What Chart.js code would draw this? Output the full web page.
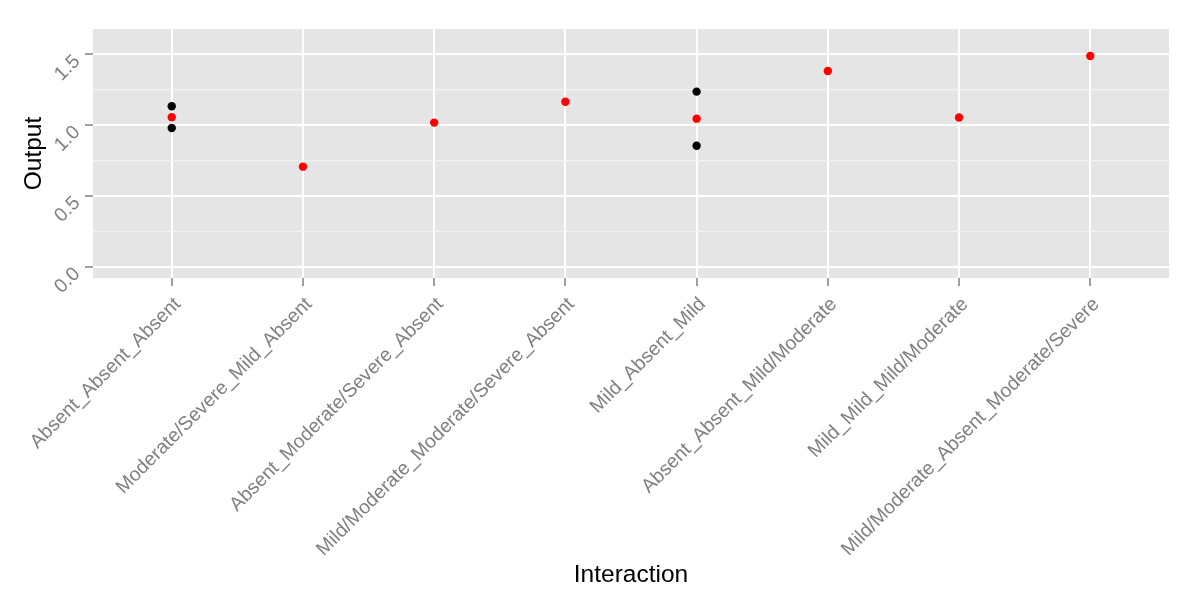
<!DOCTYPE html>
<html>
<head>
<meta charset="utf-8">
<script src="https://cdn.jsdelivr.net/npm/chart.js@4/dist/chart.umd.min.js"></script>
<style>
  html, body { margin: 0; padding: 0; background: #ffffff; }
  #wrap { width: 1200px; height: 605px; position: relative; }
</style>
</head>
<body>
<div id="wrap"><canvas id="c" width="1200" height="605"></canvas></div>
<script>
const categories = [
  "Absent_Absent_Absent",
  "Moderate/Severe_Mild_Absent",
  "Absent_Moderate/Severe_Absent",
  "Mild/Moderate_Moderate/Severe_Absent",
  "Mild_Absent_Mild",
  "Absent_Absent_Mild/Moderate",
  "Mild_Mild_Mild/Moderate",
  "Mild/Moderate_Absent_Moderate/Severe"
];
// red points: one per category
const redValues = [1.057, 0.708, 1.019, 1.166, 1.047, 1.383, 1.055, 1.489];
// black points: category index (1-based) and value
const blackCats = [1, 1, 5, 5];
const blackValues = [1.135, 0.981, 1.238, 0.856];
const yTickValues = [0, 0.25, 0.5, 0.75, 1.0, 1.25, 1.5];
const yMajor = [0, 0.5, 1.0, 1.5];

const redData = redValues.map((v, i) => ({ x: i + 1, y: v }));
const blackData = blackValues.map((v, i) => ({ x: blackCats[i], y: v }));

const panelBg = {
  id: 'panelBg',
  beforeDraw(chart) {
    const { ctx, chartArea: a } = chart;
    ctx.save();
    ctx.fillStyle = '#E5E5E5';
    ctx.fillRect(a.left, a.top, a.right - a.left, a.bottom - a.top);
    ctx.restore();
  }
};

const isMajor = v => yMajor.some(m => Math.abs(m - v) < 1e-9);

new Chart(document.getElementById('c'), {
  type: 'scatter',
  data: {
    datasets: [
      { label: 'black', data: blackData, backgroundColor: '#000000', borderColor: '#000000', pointRadius: 4.2, borderWidth: 0 },
      { label: 'red', data: redData, backgroundColor: '#FF0000', borderColor: '#FF0000', pointRadius: 4.2, borderWidth: 0 }
    ]
  },
  options: {
    responsive: false,
    animation: false,
    layout: { padding: { top: 29, right: 31, left: 0, bottom: 0 } },
    plugins: { legend: { display: false }, tooltip: { enabled: false } },
    scales: {
      x: {
        type: 'linear',
        min: 0.4,
        max: 8.6,
        afterBuildTicks(scale) { scale.ticks = categories.map((c, i) => ({ value: i + 1 })); },
        afterFit(scale) { scale.height = 327; },
        border: { display: false },
        grid: { color: '#FFFFFF', lineWidth: 2, drawTicks: true, tickLength: 8, tickColor: '#7F7F7F', tickWidth: 1.5 },
        ticks: {
          autoSkip: false,
          minRotation: 45,
          maxRotation: 45,
          padding: 7,
          labelOffset: 6,
          color: '#7F7F7F',
          font: { family: 'Liberation Sans, Arial, sans-serif', size: 19.5 },
          callback: (v) => categories[Math.round(v) - 1]
        },
        title: {
          display: true,
          text: 'Interaction',
          color: '#000000',
          font: { family: 'Liberation Sans, Arial, sans-serif', size: 24.5 },
          padding: { top: 0, bottom: 15 }
        }
      },
      y: {
        min: -0.078,
        max: 1.68,
        afterBuildTicks(scale) { scale.ticks = yTickValues.map(v => ({ value: v })); },
        afterFit(scale) { scale.width = 93; },
        border: { display: false },
        grid: {
          color: (ctx) => isMajor(ctx.tick.value) ? '#FFFFFF' : '#F2F2F2',
          lineWidth: (ctx) => isMajor(ctx.tick.value) ? 2 : 1.2,
          tickColor: (ctx) => isMajor(ctx.tick.value) ? '#7F7F7F' : 'rgba(0,0,0,0)',
          tickLength: 8,
          tickWidth: 1.5
        },
        ticks: {
          minRotation: 45,
          maxRotation: 45,
          padding: 8,
          labelOffset: 4,
          color: '#7F7F7F',
          font: { family: 'Liberation Sans, Arial, sans-serif', size: 19.5 },
          callback: (v) => isMajor(v) ? v.toFixed(1) : ''
        },
        title: {
          display: true,
          text: 'Output',
          color: '#000000',
          font: { family: 'Liberation Sans, Arial, sans-serif', size: 24.5 },
          padding: { top: 20, bottom: 0 }
        }
      }
    }
  },
  plugins: [panelBg]
});
</script>
</body>
</html>
